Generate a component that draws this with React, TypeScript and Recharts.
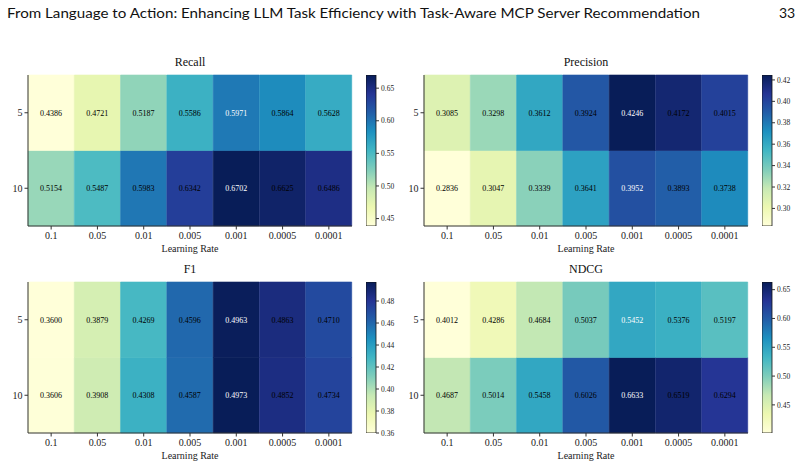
import { Bar, BarChart, Cell, LabelList, XAxis, YAxis } from 'recharts';

const SERIF = "'Liberation Serif', 'Times New Roman', serif";
const SANS = "Lato, 'Open Sans', sans-serif";

const LEARNING_RATES = ['0.1', '0.05', '0.01', '0.005', '0.001', '0.0005', '0.0001'];
const ROW_LABELS = ['5', '10'];

const RECALL_5 = [0.4386, 0.4721, 0.5187, 0.5586, 0.5971, 0.5864, 0.5628];
const RECALL_10 = [0.5154, 0.5487, 0.5983, 0.6342, 0.6702, 0.6625, 0.6486];
const PRECISION_5 = [0.3085, 0.3298, 0.3612, 0.3924, 0.4246, 0.4172, 0.4015];
const PRECISION_10 = [0.2836, 0.3047, 0.3339, 0.3641, 0.3952, 0.3893, 0.3738];
const F1_5 = [0.36, 0.3879, 0.4269, 0.4596, 0.4963, 0.4863, 0.471];
const F1_10 = [0.3606, 0.3908, 0.4308, 0.4587, 0.4973, 0.4852, 0.4734];
const NDCG_5 = [0.4012, 0.4286, 0.4684, 0.5037, 0.5452, 0.5376, 0.5197];
const NDCG_10 = [0.4687, 0.5014, 0.5458, 0.6026, 0.6633, 0.6519, 0.6294];

const RECALL_TICKS = [0.45, 0.5, 0.55, 0.6, 0.65];
const PRECISION_TICKS = [0.3, 0.32, 0.34, 0.36, 0.38, 0.4, 0.42];
const F1_TICKS = [0.36, 0.38, 0.4, 0.42, 0.44, 0.46, 0.48];
const NDCG_TICKS = [0.45, 0.5, 0.55, 0.6, 0.65];

// matplotlib YlGnBu anchors
const YLGNBU = ['#ffffd9', '#edf8b1', '#c7e9b4', '#7fcdbb', '#41b6c4', '#1d91c0', '#225ea8', '#253494', '#081d58'];

function hex(c: string) {
  return [1, 3, 5].map((i) => parseInt(c.slice(i, i + 2), 16));
}

function ylgnbu(t: number) {
  const x = Math.max(0, Math.min(1, t)) * (YLGNBU.length - 1);
  const i = Math.min(Math.floor(x), YLGNBU.length - 2);
  const f = x - i;
  const a = hex(YLGNBU[i]);
  const b = hex(YLGNBU[i + 1]);
  const m = a.map((v, k) => Math.round(v + (b[k] - v) * f));
  return `rgb(${m[0]},${m[1]},${m[2]})`;
}

// custom tick so the serif font really sticks
const serifTick = (size: number, dy: string, fmt?: (v: any) => string) => (p: any) => (
  <text
    x={p.x}
    y={p.y}
    dy={dy}
    textAnchor={p.textAnchor}
    fontSize={size}
    fontFamily={SERIF}
    fill="#222"
  >
    {fmt ? fmt(p.payload.value) : p.payload.value}
  </text>
);

const xLabel = (p: any) => {
  const vb = p.viewBox;
  return (
    <text x={vb.x + vb.width / 2} y={vb.y + vb.height - 8} textAnchor="middle" fontSize={10} fontFamily={SERIF} fill="#222">
      Learning Rate
    </text>
  );
};

type HeatmapProps = {
  id: string;
  title: string;
  row5: number[];
  row10: number[];
  ticks: number[];
  left: number;
  top: number;
};

function Heatmap({ id, title, row5, row10, ticks, left, top }: HeatmapProps) {
  const all = [...row5, ...row10];
  const lo = Math.min(...all);
  const hi = Math.max(...all);
  const color = (v: number) => ylgnbu((v - lo) / (hi - lo));
  const max5 = Math.max(...row5);
  const max10 = Math.max(...row10);
  const data = LEARNING_RATES.map((lr) => ({ lr, r10: 1, r5: 1 }));

  const valueLabel = (vals: number[], rowMax: number) => (p: any) => {
    const v = vals[p.index];
    return (
      <text
        x={p.x + p.width / 2}
        y={p.y + p.height / 2}
        dy="0.35em"
        textAnchor="middle"
        fontSize={8}
        fontFamily={SERIF}
        fill={v === rowMax ? '#fff' : '#000'}
      >
        {v.toFixed(4)}
      </text>
    );
  };

  return (
    <div style={{ position: 'absolute', left, top, width: 404, height: 210, fontFamily: SERIF }}>
      <div
        style={{
          position: 'absolute',
          left: 28,
          top: 5,
          width: 324,
          textAlign: 'center',
          fontSize: 12,
          lineHeight: '14px',
          color: '#111',
        }}
      >
        {title}
      </div>
      <div style={{ position: 'absolute', left: 0, top: 0 }}>
        <BarChart width={356} height={210} data={data} margin={{ top: 25, right: 4, left: 0, bottom: 0 }} barCategoryGap={0}>
          <XAxis
            dataKey="lr"
            height={34}
            interval={0}
            tickSize={3.5}
            tickMargin={2}
            stroke="#333"
            tick={serifTick(10, '0.75em')}
            label={{ position: 'insideBottom', content: xLabel }}
          />
          <YAxis
            type="number"
            domain={[0, 2]}
            ticks={[0.5, 1.5]}
            interval={0}
            width={28}
            tickSize={3.5}
            tickMargin={2}
            stroke="#333"
            tick={serifTick(10, '0.35em', (v: number) => (v === 1.5 ? ROW_LABELS[0] : ROW_LABELS[1]))}
          />
          <Bar dataKey="r10" stackId="s" isAnimationActive={false}>
            {row10.map((v, i) => (
              <Cell key={i} fill={color(v)} stroke={color(v)} strokeWidth={0.6} />
            ))}
            <LabelList dataKey="r10" content={valueLabel(row10, max10)} />
          </Bar>
          <Bar dataKey="r5" stackId="s" isAnimationActive={false}>
            {row5.map((v, i) => (
              <Cell key={i} fill={color(v)} stroke={color(v)} strokeWidth={0.6} />
            ))}
            <LabelList dataKey="r5" content={valueLabel(row5, max5)} />
          </Bar>
        </BarChart>
      </div>
      <div style={{ position: 'absolute', left: 366, top: 0 }}>
        <BarChart width={42} height={210} data={[{ name: 'cb', range: [lo, hi] }]} margin={{ top: 25, right: 0, left: 0, bottom: 34 }} barCategoryGap={0}>
          <defs>
            <linearGradient id={`cb-${id}`} x1="0" y1="0" x2="0" y2="1">
              {YLGNBU.map((_, i) => (
                <stop key={i} offset={i / (YLGNBU.length - 1)} stopColor={YLGNBU[YLGNBU.length - 1 - i]} />
              ))}
            </linearGradient>
          </defs>
          <XAxis dataKey="name" hide />
          <YAxis
            orientation="right"
            type="number"
            domain={[lo, hi]}
            allowDataOverflow
            ticks={ticks}
            interval={0}
            width={32}
            axisLine={false}
            tickSize={3}
            tickMargin={2}
            stroke="#333"
            tick={serifTick(7.5, '0.35em', (v: number) => v.toFixed(2))}
          />
          <Bar dataKey="range" fill={`url(#cb-${id})`} stroke="#111" strokeWidth={0.8} isAnimationActive={false} />
        </BarChart>
      </div>
    </div>
  );
}

export default function App() {
  return (
    <div style={{ position: 'absolute', left: 0, top: 0, width: 800, height: 468, background: '#fff', overflow: 'hidden' }}>
      <svg width={800} height={30} style={{ position: 'absolute', left: 0, top: 0 }}>
        <text x={7} y={18} fontFamily={SANS} fontSize={14} fill="#111" textLength={693} lengthAdjust="spacingAndGlyphs">
          From Language to Action: Enhancing LLM Task Efficiency with Task-Aware MCP Server Recommendation
        </text>
        <text x={779} y={18} fontFamily={SANS} fontSize={14} fill="#111">
          33
        </text>
      </svg>
      <Heatmap id="recall" title="Recall" row5={RECALL_5} row10={RECALL_10} ticks={RECALL_TICKS} left={0} top={50} />
      <Heatmap id="precision" title="Precision" row5={PRECISION_5} row10={PRECISION_10} ticks={PRECISION_TICKS} left={396} top={50} />
      <Heatmap id="f1" title="F1" row5={F1_5} row10={F1_10} ticks={F1_TICKS} left={0} top={257} />
      <Heatmap id="ndcg" title="NDCG" row5={NDCG_5} row10={NDCG_10} ticks={NDCG_TICKS} left={396} top={257} />
    </div>
  );
}
